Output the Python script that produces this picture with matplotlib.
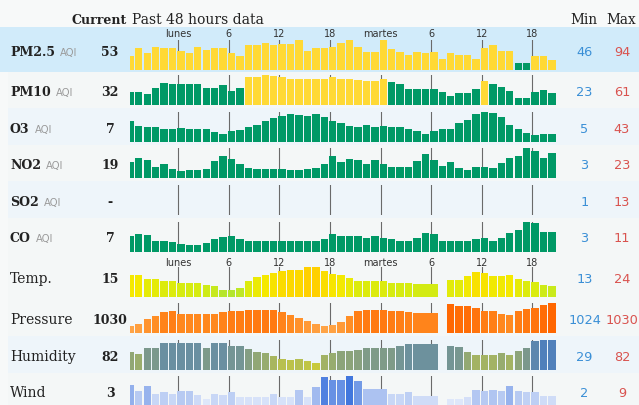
import matplotlib
matplotlib.use('Agg')
import matplotlib.pyplot as plt
from matplotlib.patches import Rectangle
from matplotlib.colors import LinearSegmentedColormap, Normalize

W, H = 639, 406

# ---------------- data ----------------
hours = list(range(-6, 45))
tick_hours = [0, 6, 12, 18, 24, 30, 36, 42]
tick_labels = ['lunes', '6', '12', '18', 'martes', '6', '12', '18']

pm25 = [60, 78, 66, 80, 78, 78, 71, 66, 80, 73, 78, 78, 67, 60, 83, 83, 88, 83, 85, 85,
        94, 71, 78, 78, 80, 87, 93, 79, 69, 69, 94, 75, 69, 63, 69, 67, 69, 55, 66, 62,
        62, 55, 77, 84, 71, 71, 46, 46, 60, 60, 53]
pm10 = [33, 33, 30, 39, 48, 47, 46, 46, 47, 40, 40, 44, 35, 40, 57, 57, 61, 59, 58, 55,
        54, 55, 55, 55, 57, 55, 54, 53, 51, 51, 55, 50, 46, 38, 38, 38, 38, 33, 26, 32,
        32, 38, 51, 46, 41, 35, 23, 23, 33, 37, 32]
o3 = [28, 20, 18, 18, 14, 14, 16, 14, 14, 14, 9, 7, 11, 13, 17, 21, 28, 33, 36, 39,
      38, 36, 39, 35, 27, 24, 19, 18, 21, 18, 20, 18, 17, 15, 11, 6, 12, 15, 15, 24,
      29, 40, 43, 41, 35, 21, 15, 8, 5, 7, 7]
no2 = [11, 15, 13, 7, 9, 5, 3, 4, 4, 5, 12, 16, 14, 9, 6, 5, 5, 5, 5, 4,
       4, 5, 6, 9, 16, 11, 14, 13, 9, 13, 9, 7, 7, 7, 12, 18, 13, 8, 11, 6,
       4, 7, 7, 6, 10, 15, 16, 23, 21, 15, 19]
so2 = []  # no readings
co = [6.0, 6.8, 6.2, 4.3, 4.3, 4.0, 3.2, 3.0, 3.0, 3.4, 4.9, 5.7, 6.0, 5.1, 4.3, 4.3, 4.3, 4.3, 4.3, 4.1,
      4.1, 4.3, 4.3, 4.9, 6.6, 6.0, 6.0, 6.0, 5.2, 6.0, 5.4, 4.9, 4.3, 4.3, 5.2, 6.9, 6.6, 4.3, 4.3, 4.3,
      4.3, 4.9, 5.2, 4.3, 5.2, 6.9, 8.2, 11.0, 10.4, 7.3, 7.3]

w_hours = list(range(-6, 29)) + list(range(32, 45))
w_span = [1] * 34 + [3] + [1] * 13
temp = [20.5, 20.5, 18.4, 18.4, 17.3, 17.3, 16.5, 16.5, 16.5, 15.7, 14.9, 13.3, 13.0, 14.1, 17.3,
        19.2, 20.5, 21.3, 22.4, 22.9, 22.9, 24.0, 24.0, 22.1, 21.0, 20.2, 18.9, 17.3, 17.3, 17.3,
        17.3, 16.5, 16.5, 16.5, 16.2,
        18.1, 18.1, 20.0, 21.6, 21.3, 20.0, 20.0, 20.5, 18.6, 17.3, 17.0, 15.7, 15.2]
pressure = [1024.0, 1024.6, 1025.9, 1026.6, 1027.6, 1027.9, 1027.2, 1027.2, 1027.2, 1027.2, 1027.2,
            1027.6, 1028.1, 1028.1, 1028.3, 1028.3, 1028.3, 1028.3, 1027.6, 1027.0, 1026.2, 1025.3,
            1024.6, 1024.0, 1024.3, 1025.2, 1026.6, 1027.9, 1028.2, 1028.3, 1028.3, 1028.1, 1027.9,
            1027.7, 1027.5,
            1029.8, 1029.4, 1029.4, 1028.8, 1028.1, 1027.9, 1027.2, 1027.0, 1028.1, 1028.5, 1028.8,
            1029.5, 1030.0]
humidity = [54, 50, 64, 64, 74, 74, 74, 74, 74, 63, 74, 74, 68, 68, 60, 54, 51, 44, 37, 35,
            38, 33, 29, 47, 51, 56, 56, 58, 62, 62, 62, 62, 68, 72, 72,
            68, 66, 53, 46, 46, 46, 51, 46, 56, 64, 78, 82, 82]
wind_hours = list(range(-6, 23)) + [25, 26, 27, 28] + list(range(32, 45))
wind_span = [1] * 28 + [3] + [1, 1, 1, 3] + [1] * 13
wind = [6.2, 4.5, 6.0, 3.5, 4.2, 3.5, 4.5, 4.5, 3.2, 2.0, 3.5, 3.2, 4.2, 2.5, 2.5, 2.5, 2.5, 3.5,
        2.5, 2.5, 4.7, 2.5, 5.5, 8.5, 7.7, 7.7, 9.0, 7.3, 5.0,
        3.5, 3.5, 4.2, 3.0,
        2.0, 2.0, 2.7, 4.7, 4.5, 4.8, 4.5, 6.0, 4.5, 4.0, 4.2, 3.0, 3.0]

row_names = ['PM2.5', 'PM10', 'O3', 'NO2', 'SO2', 'CO', 'Temp.', 'Pressure', 'Humidity', 'Wind']
is_aqi = [True, True, True, True, True, True, False, False, False, False]
current = ['53', '32', '7', '19', '-', '7', '15', '1030', '82', '3']
mins = [46, 23, 5, 3, 1, 3, 13, 1024, 29, 2]
maxs = [94, 61, 43, 23, 13, 11, 24, 1030, 82, 9]

# ---------------- styles ----------------
SERIF = 'DejaVu Serif'
SANS = 'DejaVu Sans'
GREEN, YELLOW = '#009966', '#ffd935'
cmap_temp = LinearSegmentedColormap.from_list('t', [(0, '#b3e62e'), (0.32, '#d6ec10'), (0.68, '#f5e900'), (1, '#ffd000')])
cmap_pres = LinearSegmentedColormap.from_list('p', [(0, '#ffa447'), (0.5, '#ff8a20'), (1, '#ff6600')])
cmap_hum = LinearSegmentedColormap.from_list('h', [(0, '#c8c93c'), (0.2, '#b2bd55'), (0.45, '#93a973'),
                                                   (0.65, '#7c998b'), (0.85, '#6a8fa1'), (1, '#5080bb')])
cmap_wind = LinearSegmentedColormap.from_list('w', [(0, '#dee7fa'), (0.3, '#bfd0f4'), (0.6, '#93b0ec'), (1, '#4277dd')])

# layout (pixels from top): row top, row bottom, bar baseline
row_geom = [(28, 72.7, 71.0), (72.7, 109.2, 106.0), (109.2, 145.7, 142.7), (145.7, 182.2, 179.3),
            (182.2, 218.7, 215.6), (218.7, 255.2, 252.5), (255.2, 300.8, 298.3), (300.8, 337.3, 334.2),
            (337.3, 373.8, 370.7), (373.8, 410.0, 406.8)]
row_bg = ['#d1ebfa', '#f4f7f7', '#eef5fa', '#f4f7f7', '#eef5fa', '#f4f7f7', '#f4f7f7', '#f4f7f7',
          '#eef5fa', '#f4f7f7']
BAR_H = 30.0
X0, X1 = 130, 557
HOUR0_PX, PX_PER_H = 177.3, 8.43


def fx(x):
    return x / W


def fy(y):
    return 1 - y / H


fig = plt.figure(figsize=(W / 100, H / 100), dpi=100)
fig.patch.set_facecolor('#f7f9f9')

series = {
    0: (hours, [1] * len(hours), pm25, 'aqi'),
    1: (hours, [1] * len(hours), pm10, 'aqi'),
    2: (hours, [1] * len(hours), o3, 'aqi'),
    3: (hours, [1] * len(hours), no2, 'aqi'),
    4: ([], [], so2, 'aqi'),
    5: (hours, [1] * len(hours), co, 'aqi'),
    6: (w_hours, w_span, temp, cmap_temp),
    7: (w_hours, w_span, pressure, cmap_pres),
    8: (w_hours, w_span, humidity, cmap_hum),
    9: (wind_hours, wind_span, wind, cmap_wind),
}

xlim = ((X0 - HOUR0_PX) / PX_PER_H, (X1 - HOUR0_PX) / PX_PER_H)

for i, name in enumerate(row_names):
    top, bot, base = row_geom[i]
    left = 0 if i == 0 else 8
    fig.add_artist(Rectangle((fx(left), fy(bot)), fx(W - left), (bot - top) / H,
                             transform=fig.transFigure, facecolor=row_bg[i], edgecolor='none', zorder=0))
    ax = fig.add_axes([fx(X0), fy(base), fx(X1 - X0), BAR_H / H])
    ax.set_facecolor('none')
    for s in ax.spines.values():
        s.set_visible(False)
    ax.set_xticks([])
    ax.set_yticks([])
    vmin, vmax = mins[i], maxs[i]
    ylo = vmin - 0.30 * (vmax - vmin)
    ax.set_xlim(*xlim)
    ax.set_ylim(ylo, vmax)
    xs, spans, vals, cm = series[i]
    if cm == 'aqi':
        cols = [GREEN if v <= 50 else YELLOW for v in vals]
    else:
        norm = Normalize(vmin, vmax)
        cols = [cm(norm(v)) for v in vals]
    if vals:
        ax.bar(xs, [v - ylo for v in vals], bottom=ylo, width=[s - 0.13 for s in spans],
               align='edge', color=cols, edgecolor='none', zorder=2)
    for t in tick_hours:
        ax.axvline(t + 0.12, color='#6a6a6a', lw=0.8, zorder=1)
    if i in (0, 6):
        off = 5.0 if i == 0 else 3.8
        for t, lab in zip(tick_hours, tick_labels):
            ax.annotate(lab, xy=(t + 0.12, 1), xycoords=('data', 'axes fraction'),
                        xytext=(0, off), textcoords='offset points', ha='center', va='center',
                        fontsize=7, family=SANS, color='#333333')

    cy = (top + bot) / 2 + 0.7
    bl = cy + 4.6
    if is_aqi[i]:
        t = fig.text(fx(10), fy(bl), name, fontsize=9, family=SERIF, fontweight='bold',
                     color='#222222', va='baseline', ha='left')
        fig.canvas.draw()
        bb = t.get_window_extent()
        fig.text((bb.x1 + 5) / W, fy(bl), 'AQI', fontsize=7.2, family=SANS, color='#9a9a9a',
                 va='baseline', ha='left')
    else:
        fig.text(fx(10), fy(bl), name, fontsize=10, family=SERIF, color='#222222',
                 va='baseline', ha='left')
    fig.text(fx(110), fy(bl), current[i], fontsize=9, family=SERIF, fontweight='bold',
             color='#222222', va='baseline', ha='center')
    fig.text(fx(584.5), fy(bl), str(mins[i]), fontsize=9.3, family=SANS, color='#3a8fd6',
             va='baseline', ha='center')
    fig.text(fx(622), fy(bl), str(maxs[i]), fontsize=9.3, family=SANS, color='#d9534f',
             va='baseline', ha='center')

# header
fig.text(fx(72), fy(23.5), 'Current', fontsize=9, family=SERIF, fontweight='bold',
         color='#222222', va='baseline', ha='left')
fig.text(fx(132), fy(23.5), 'Past 48 hours data', fontsize=10, family=SERIF,
         color='#222222', va='baseline', ha='left')
fig.text(fx(583.5), fy(24), 'Min', fontsize=9.8, family=SERIF, color='#222222', va='baseline', ha='center')
fig.text(fx(621), fy(24), 'Max', fontsize=9.8, family=SERIF, color='#222222', va='baseline', ha='center')

fig.savefig('out.png', dpi=100, facecolor=fig.get_facecolor())
